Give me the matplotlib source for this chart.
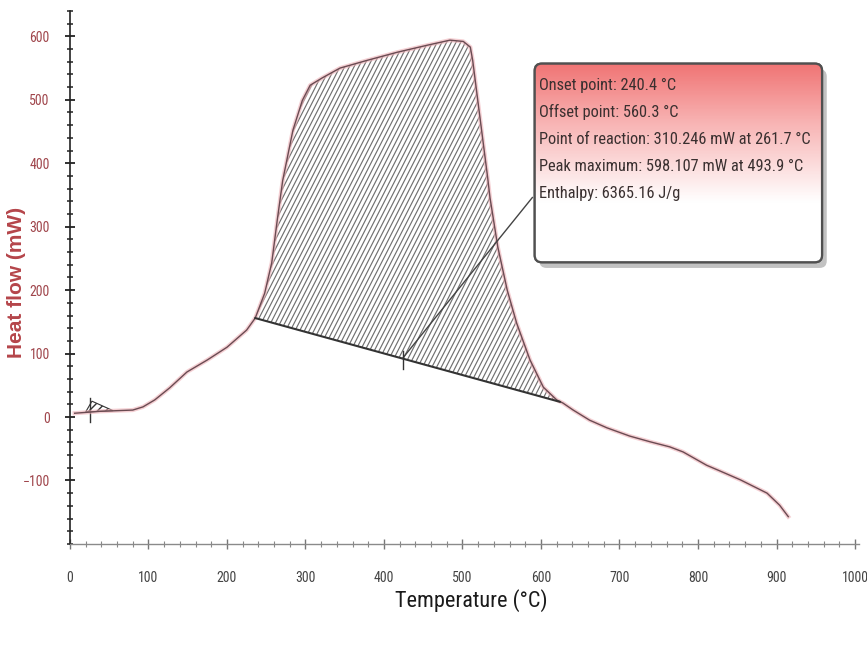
import numpy as np
import matplotlib
matplotlib.use("Agg")
import matplotlib.pyplot as plt
from matplotlib import font_manager
from matplotlib.collections import LineCollection
from matplotlib.patches import Polygon, FancyBboxPatch
from matplotlib.colors import LinearSegmentedColormap

# DSC curve
temp = [6, 38, 80, 93, 108, 127, 149, 175, 200, 225, 236, 248, 257, 264, 271, 284, 296, 306,
        322, 344, 378, 417, 455, 484, 501, 510, 513, 520, 526, 532, 535, 545, 557, 569, 586,
        603, 620, 628, 641, 662, 684, 713, 739, 764, 781, 811, 828, 854, 888, 904, 915]
heat = [6, 9, 11, 16, 27, 46, 71, 90, 110, 137, 156, 195, 243, 310, 373, 452, 499, 523,
        535, 550, 562, 575, 586, 594, 592, 583, 562, 494, 436, 378, 346, 268, 200, 148, 90,
        47, 27, 22, 11, -5, -17, -30, -39, -47, -55, -76, -85, -99, -120, -139, -157]

# integration baseline (start / end of the hatched peak)
base_t = [236, 624]
base_h = [156, 24]
# reaction point marker on the baseline
react_t = 424
react_h = 93

# small peak near room temperature
small_t = [20, 28, 55]
small_h = [8, 25, 10]

info_lines = ["Onset point: 240.4 \u00b0C",
              "Offset point: 560.3 \u00b0C",
              "Point of reaction: 310.246 mW at 261.7 \u00b0C",
              "Peak maximum: 598.107 mW at 493.9 \u00b0C",
              "Enthalpy: 6365.16 J/g"]

# pick a narrow font with a regular (non bold) face
narrow, nweight = "DejaVu Sans", "normal"
for n in ["Liberation Sans Narrow", "Roboto Condensed", "Open Sans Condensed",
          "DejaVu Sans Condensed"]:
    ws = [f.weight for f in font_manager.fontManager.ttflist
          if f.name == n and f.style == "normal"]
    ws = [w if isinstance(w, int) else 400 for w in ws]
    ok = [w for w in ws if w <= 400]
    if ok:
        narrow, nweight = n, max(ok)
        break
names = {f.name for f in font_manager.fontManager.ttflist}
sans = "Liberation Sans" if "Liberation Sans" in names else "DejaVu Sans"

fig = plt.figure(figsize=(8.67, 6.46), dpi=100)
ax = fig.add_axes([0.0807, 0.158, 0.910, 0.825])

# hatched peak area
xs = np.linspace(base_t[0], base_t[1], 400)
ys = np.interp(xs, temp, heat)
yb = np.interp(xs, base_t, base_h)
poly = Polygon(np.column_stack([np.r_[xs, xs[::-1]], np.r_[ys, yb[::-1]]]),
               closed=True, facecolor="white", edgecolor="none", zorder=1)
ax.add_patch(poly)
m = 2.43
segs = []
for c in np.arange(base_t[0] - 300, base_t[1] + 20, 6.0):
    segs.append([(c, -60), (c + 720 / m, 660)])
lc = LineCollection(segs, colors="#707070", linewidths=0.85, zorder=2)
ax.add_collection(lc)
lc.set_clip_path(poly)

# small peak near start
sp = Polygon(np.column_stack([small_t, small_h]), closed=True, facecolor="white",
             edgecolor="#333333", hatch="////", lw=0.8, zorder=3)
ax.add_patch(sp)
ax.plot([25, 25], [-8, 30], color="#333333", lw=1, zorder=3)

# curve
ax.plot(temp, heat, color="#eeb0b6", lw=3.0, alpha=0.6, zorder=3)
ax.plot(temp, heat, color="#6a4b52", lw=1.0, zorder=4)
ax.plot(base_t, base_h, color="#333333", lw=1.5, zorder=4)

# annotation box
bx0, bx1, by0, by1 = 592, 958, 244, 557
ax.plot([react_t, bx0 - 3], [react_h, 346], color="#444444", lw=1, zorder=4)
ax.plot([react_t, react_t], [76, 104], color="#333333", lw=1, zorder=4)

shadow = FancyBboxPatch((bx0 + 6, by0 - 9), bx1 - bx0, by1 - by0,
                        boxstyle="round,pad=0,rounding_size=9", mutation_aspect=1.24,
                        facecolor="#9a9a9a", edgecolor="none", alpha=0.6, zorder=5)
ax.add_patch(shadow)
box = FancyBboxPatch((bx0, by0), bx1 - bx0, by1 - by0,
                     boxstyle="round,pad=0,rounding_size=9", mutation_aspect=1.24,
                     facecolor="white", edgecolor="#505050", lw=1.6, zorder=6)
ax.add_patch(box)
cmap = LinearSegmentedColormap.from_list("g", [(0, "white"), (0.3, "white"),
                                               (0.7, "#f8b4b4"), (1, "#f07474")])
grad = np.linspace(0, 1, 200).reshape(-1, 1)
im = ax.imshow(grad, extent=[bx0, bx1, by0, by1], origin="lower", cmap=cmap,
               aspect="auto", zorder=6.5)
im.set_clip_path(box)
edge = FancyBboxPatch((bx0, by0), bx1 - bx0, by1 - by0,
                      boxstyle="round,pad=0,rounding_size=9", mutation_aspect=1.24,
                      facecolor="none", edgecolor="#505050", lw=1.6, zorder=7)
ax.add_patch(edge)
for i, line in enumerate(info_lines):
    ax.text(bx0 + 5, 523 - i * 42.5, line, fontsize=11.8, family=narrow, weight=nweight,
            color="#3a3030", va="center", ha="left", zorder=8)

ax.set_xlim(0, 1005)
ax.set_ylim(-200, 640)
ax.set_xticks(np.arange(0, 1001, 100))
ax.set_yticks(np.arange(-100, 601, 100))
ax.set_xticks(np.arange(0, 1001, 20), minor=True)
ax.set_yticks(np.arange(-200, 641, 20), minor=True)
for s in ["top", "right"]:
    ax.spines[s].set_visible(False)
ax.spines["left"].set_color("#222222")
ax.spines["left"].set_linewidth(1.2)
ax.spines["bottom"].set_color("#8a8a8a")
ax.spines["bottom"].set_linewidth(1.0)
ax.tick_params(axis="y", which="major", direction="inout", length=7, width=1.3,
               color="#222222", labelcolor="#a0464c", pad=11)
ax.tick_params(axis="y", which="minor", direction="inout", length=4, width=1.1, color="#222222")
ax.tick_params(axis="x", which="major", direction="inout", length=7, width=1.0,
               color="#777777", labelcolor="#444444", pad=16)
ax.tick_params(axis="x", which="minor", direction="inout", length=4, width=0.8, color="#888888")
for lab in ax.get_xticklabels() + ax.get_yticklabels():
    lab.set_family(narrow)
    lab.set_weight(nweight)
    lab.set_fontsize(10)

fig.text(0.019, 0.563, "Heat flow (mW)", rotation=90, ha="center", va="center",
         fontsize=15, family=sans, weight="bold", color="#b5454a")
fig.text(0.544, 0.071, "Temperature (\u00b0C)", ha="center", va="center",
         fontsize=16, family=narrow, weight=nweight, color="#1a1a1a")

fig.savefig("out.png", dpi=100)
